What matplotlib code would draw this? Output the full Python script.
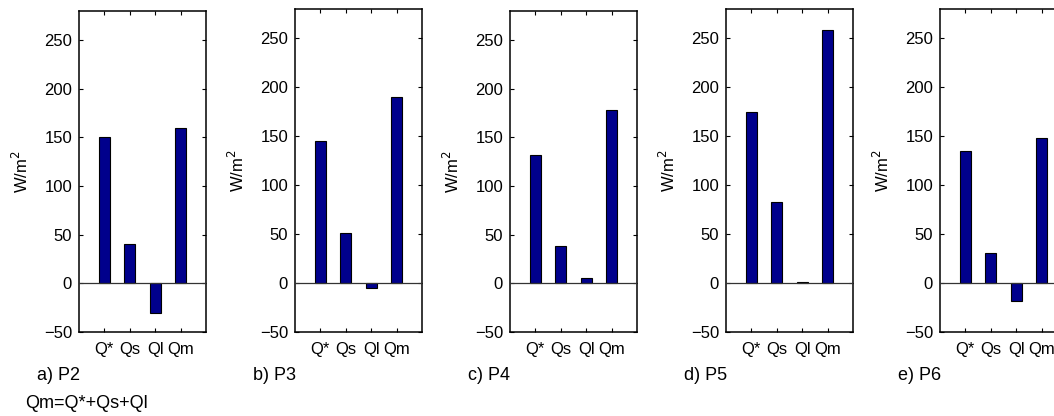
import matplotlib
matplotlib.use("Agg")
import matplotlib.pyplot as plt
import numpy as np

plt.rcParams["font.family"] = ["Liberation Sans", "DejaVu Sans"]

# energy balance terms per site (W/m2)
terms = ["Q*", "Qs", "Ql", "Qm"]
sites = ["a) P2", "b) P3", "c) P4", "d) P5", "e) P6"]
p2 = [150, 40, -30, 160]
p3 = [145, 51, -5, 190]
p4 = [132, 38, 6, 178]
p5 = [175, 83, 1, 259]
p6 = [135, 31, -18, 148]
site_values = [p2, p3, p4, p5, p6]

W, H = 1054, 416
fig = plt.figure(figsize=(W / 100, H / 100), dpi=100)

lefts = [79, 295, 510, 726, 940]
tops = [11, 9, 11, 9, 9]
ax_w, bottom = 127, 332

x = np.arange(1, len(terms) + 1)

for left, top, name, vals in zip(lefts, tops, sites, site_values):
    ax = fig.add_axes([left / W, (H - bottom) / H, ax_w / W, (bottom - top) / H])
    ax.bar(x, vals, 0.42, color="#00008C", edgecolor="black", linewidth=0.8, zorder=2)
    ax.axhline(0, color="#333333", linewidth=0.9, zorder=3)
    ax.set_xlim(0, 5)
    ax.set_ylim(-50, 280)
    ax.set_xticks(x)
    ax.set_xticklabels(terms)
    ax.set_yticks([-50, 0, 50, 100, 150, 200, 250])
    ax.set_yticklabels(["\u221250", "0", "50", "100", "150", "200", "250"])
    ax.tick_params(direction="in", length=3, width=0.8, top=True, right=True,
                   labelsize=12, pad=5, colors="black")
    ax.tick_params(axis="x", pad=7)
    for s in ax.spines.values():
        s.set_linewidth(1.1)
    ax.set_ylabel("W/m$^2$", fontsize=12, labelpad=9)
    ax.text(-0.33, -0.135, name, transform=ax.transAxes, fontsize=13,
            ha="left", va="center")

fig.text(25 / W, 1 - 404 / H, "Qm=Q*+Qs+Ql", fontsize=13, ha="left", va="center")

fig.savefig("out.png", dpi=100, facecolor="white")
